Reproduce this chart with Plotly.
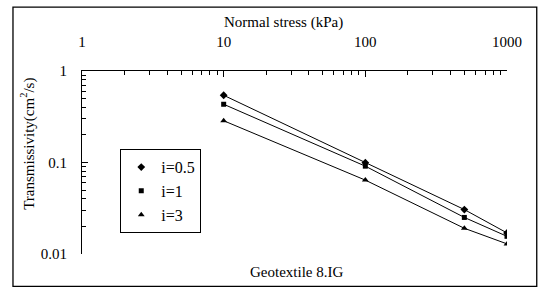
import plotly.graph_objects as go

stress = [10, 100, 500, 1000]
t_05 = [0.543, 0.0996, 0.0306, 0.0170]
t_1 = [0.433, 0.0912, 0.0251, 0.0156]
t_3 = [0.286, 0.0642, 0.0191, 0.0129]
series_names = ["i=0.5", "i=1", "i=3"]
symbols = ["diamond", "square", "triangle-up"]
x_ticks = [1, 10, 100, 1000]
y_ticks = [0.01, 0.1, 1]

FONT = "Liberation Serif, Times New Roman, serif"

fig = go.Figure()
for name, vals, sym in zip(series_names, [t_05, t_1, t_3], symbols):
    size = 5 if sym == "square" else 6
    fig.add_trace(go.Scatter(
        x=stress, y=vals, name=name, mode="lines+markers", showlegend=False,
        line=dict(color="black", width=1),
        marker=dict(symbol=sym, color="black", size=size),
        hoverinfo="skip",
    ))
    fig.add_trace(go.Scatter(
        x=[None], y=[None], name=name, mode="markers",
        marker=dict(symbol=sym, color="black", size=size),
    ))

fig.update_layout(
    width=540, height=288,
    margin=dict(l=82.3, r=32.7, t=70.7, b=34, autoexpand=False),
    paper_bgcolor="white", plot_bgcolor="white",
    font=dict(family=FONT, color="black", size=15),
    showlegend=True,
    legend=dict(x=0.09, y=0.573, xanchor="left", yanchor="top",
                bordercolor="black", borderwidth=1, bgcolor="white",
                font=dict(size=16, family=FONT, color="black"), itemwidth=30,
                tracegroupgap=0),
    xaxis=dict(type="log", range=[0, 3], side="top", automargin=False,
               showline=True, linecolor="black", linewidth=1,
               showgrid=False, zeroline=False,
               ticks="inside", ticklen=6, tickcolor="black",
               tickvals=x_ticks, ticktext=[str(v) for v in x_ticks],
               tickfont=dict(size=15, family=FONT, color="black"), ticklabelstandoff=17,
               minor=dict(ticks="inside", ticklen=4, tickcolor="black",
                          tickvals=[v * d for d in [1, 10, 100] for v in range(2, 10)])),
    yaxis=dict(type="log", range=[-2, 0], automargin=False,
               showline=True, linecolor="black", linewidth=1,
               showgrid=False, zeroline=False,
               ticks="inside", ticklen=6, tickcolor="black",
               tickvals=y_ticks, ticktext=["0.01", "0.1", "1"],
               tickfont=dict(size=15, family=FONT, color="black"), ticklabelstandoff=11,
               minor=dict(ticks="inside", ticklen=4, tickcolor="black",
                          tickvals=[v * d for d in [0.01, 0.1] for v in range(2, 10)])),
    shapes=[dict(type="rect", xref="paper", yref="paper",
                 x0=-0.1624, x1=1.070, y0=-0.1773, y1=1.349,
                 line=dict(color="black", width=1.3))],
    annotations=[
        dict(text="Normal stress (kPa)", xref="paper", yref="paper",
             x=0.4746, y=1.267, xanchor="center", yanchor="middle",
             showarrow=False, font=dict(size=15, family=FONT)),
        dict(text="Transmissivity(cm<sup>2</sup>/s)", xref="paper", yref="paper",
             x=-0.128, y=0.600, xanchor="center", yanchor="middle", textangle=-90,
             showarrow=False, font=dict(size=15, family=FONT)),
        dict(text="Geotextile 8.IG", xref="paper", yref="paper",
             x=0.5045, y=-0.0966, xanchor="center", yanchor="middle",
             showarrow=False, font=dict(size=15, family=FONT)),
    ],
)

fig.write_html("out.html", config={"displayModeBar": False},
               post_script="document.body.style.margin='0px';")
